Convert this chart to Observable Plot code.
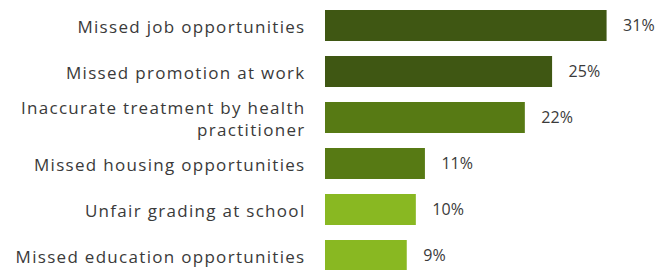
<!DOCTYPE html>
<html>
<head>
<meta charset="utf-8">
<script src="https://cdn.jsdelivr.net/npm/d3@7"></script>
<script src="https://cdn.jsdelivr.net/npm/@observablehq/plot@0.6"></script>
<style>
  html, body { margin: 0; padding: 0; background: #fff; overflow: hidden; }
  #chart svg { display: block; overflow: visible; }
  #chart svg g[aria-label="y-axis tick label"] text { letter-spacing: 1.3px; }
</style>
</head>
<body>
<div id="chart"></div>
<script>
const categories = [
  "Missed job opportunities",
  "Missed promotion at work",
  "Inaccurate treatment by health\npractitioner",
  "Missed housing opportunities",
  "Unfair grading at school",
  "Missed education opportunities"
];
const values = [31, 25, 22, 11, 10, 9];
const valueLabels = ["31%", "25%", "22%", "11%", "10%", "9%"];

const barColors = ["#3f5713", "#3f5713", "#577a14", "#577a14", "#89b822", "#89b822"];

const data = categories.map((c, i) => ({category: c, value: values[i], label: valueLabels[i]}));

const chart = Plot.plot({
  width: 655,
  height: 280,
  marginTop: 2,
  marginBottom: 0,
  marginLeft: 325,
  marginRight: 3,
  style: {fontFamily: "'Open Sans', sans-serif", fontSize: "17px", color: "#3a3a3a", background: "#fff", overflow: "visible"},
  x: {domain: [0, 36], axis: null},
  y: {domain: categories, paddingInner: 0.32, paddingOuter: 0.16, label: null},
  color: {domain: categories, range: barColors},
  marks: [
    Plot.barX(data, {y: "category", x: "value", fill: "category"}),
    Plot.text(data, {y: "category", x: "value", text: "label", textAnchor: "start", dx: 16, fill: "#3a3a3a", fontSize: 16}),
    Plot.axisY({tickSize: 0, tickPadding: 20, fontSize: 17, lineHeight: 1.3, label: null, fill: "#3a3a3a"})
  ]
});
document.getElementById("chart").appendChild(chart);
</script>
</body>
</html>
